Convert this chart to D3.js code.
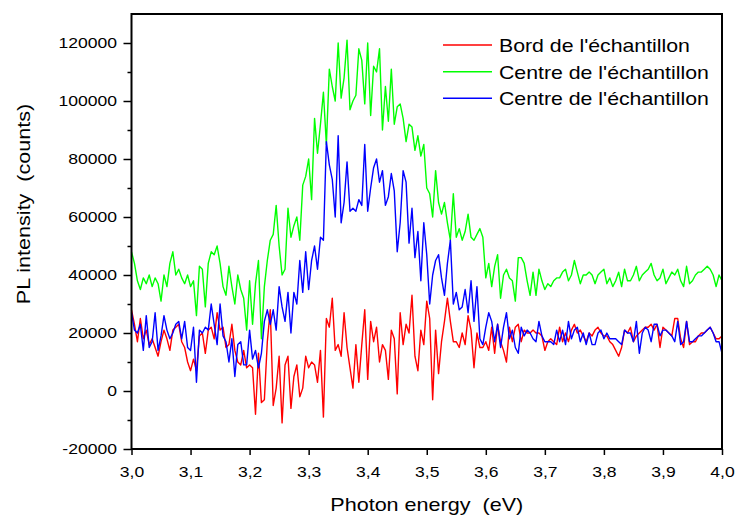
<!DOCTYPE html>
<html>
<head>
<meta charset="utf-8">
<script src="https://cdn.jsdelivr.net/npm/d3@7"></script>
<style>
  html, body { margin: 0; padding: 0; background: #fff; }
  svg { display: block; font-family: "Liberation Sans", Arial, sans-serif; }
  text { white-space: pre; }
</style>
</head>
<body>
<svg id="chart" width="737" height="515"></svg>
<script>
// ---------------- DATA ----------------
const energyStart = 3.0;     // eV
const energyStep = 0.005;    // eV
const energyEnd = 4.0;

// PL intensity (counts) at each energy step
const bordEchantillon = [
  28000,23000,17000,25000,18000,21000,16000,18000,15000,12000,
  17000,21000,18000,14000,21000,22000,23000,17000,15000,10000,
  7000,11000,7000,19000,20000,13000,21000,22000,18000,27000,
  21000,22000,15000,16000,23000,14000,10000,9000,14000,8000,
  9000,8000,-8000,13000,-4000,-3000,17000,28000,-5000,1000,
  12000,-11000,9000,12000,-6000,5000,9000,-2000,1000,12000,
  8000,10000,9000,3000,14000,-9000,25000,22000,32000,14000,
  16000,12000,27000,15000,8000,1000,16000,3000,16000,28000,
  4000,24000,17000,22000,10000,16000,14000,4000,21000,18000,
  -1000,27000,16000,23000,20000,33000,12000,7000,21000,16000,
  31000,25000,-3000,21000,6000,17000,24000,32000,24000,17000,
  17000,15000,20000,16000,26000,21000,8000,20000,15000,15000,
  17000,14000,22000,13000,23000,17000,14000,10000,22000,17000,
  22000,23000,17000,21000,20000,20000,21000,20000,20000,19000,
  14000,17000,18000,17000,16000,22000,17000,20000,17000,21000,
  23000,20000,21000,19000,17000,20000,19000,21000,22000,20000,
  19000,19000,17000,16000,14000,12000,15000,21000,20000,22000,
  17000,19000,20000,21000,22000,22000,23000,21000,23000,15000,
  22000,21000,20000,19000,25000,25000,18000,15000,24000,16000,
  17000,17000,19000,20000,20000,21000,22000,20000,18000,18000,
  19000
];

const centreEchantillon1 = [
  48000,44000,38000,35000,39000,37000,40000,36000,39000,37000,
  31000,40000,36000,44000,48000,40000,42000,39000,37000,40000,
  36000,38000,26000,43000,42000,29000,44000,48000,47000,50000,
  44000,36000,33000,43000,36000,30000,40000,35000,32000,21000,
  38000,23000,37000,45000,18000,36000,45000,52000,54000,64000,
  50000,40000,42000,63000,53000,57000,60000,52000,71000,74000,
  80000,66000,94000,82000,92000,103000,85000,111000,105000,100000,
  120000,101000,108000,121000,97000,100000,102000,118000,114000,99000,
  120000,95000,112000,110000,118000,90000,105000,93000,111000,92000,
  98000,99000,94000,86000,92000,91000,83000,88000,81000,85000,
  70000,68000,60000,76000,65000,61000,65000,58000,52000,68000,
  53000,56000,52000,55000,61000,53000,52000,54000,56000,53000,
  39000,44000,36000,43000,47000,32000,40000,42000,39000,38000,
  31000,46000,46000,44000,38000,33000,41000,33000,42000,38000,
  35000,37000,36000,38000,39000,39000,41000,42000,38000,40000,
  45000,41000,37000,40000,40000,41000,40000,37000,40000,41000,
  42000,37000,39000,36000,38000,41000,36000,42000,38000,38000,
  40000,43000,38000,40000,41000,42000,44000,40000,38000,39000,
  42000,37000,39000,41000,40000,42000,38000,36000,43000,37000,
  38000,40000,41000,41000,42000,43000,42000,40000,36000,40000,
  38000
];

const centreEchantillon2 = [
  27000,21000,20000,23000,14000,26000,15000,17000,27000,14000,
  19000,26000,21000,18000,20000,23000,24000,18000,24000,15000,
  14000,22000,3000,21000,20000,22000,21000,30000,23000,16000,
  30000,19000,17000,10000,18000,5000,16000,17000,9000,9000,
  21000,11000,14000,8000,13000,24000,28000,23000,28000,21000,
  36000,29000,24000,34000,20000,34000,30000,45000,34000,48000,
  35000,45000,50000,42000,53000,52000,86000,78000,73000,60000,
  88000,58000,65000,79000,62000,63000,62000,66000,64000,85000,
  62000,70000,77000,80000,72000,76000,64000,67000,75000,69000,
  48000,58000,76000,72000,51000,63000,46000,55000,38000,58000,
  47000,30000,40000,45000,47000,39000,33000,44000,52000,30000,
  34000,28000,29000,35000,27000,38000,24000,36000,18000,16000,
  22000,27000,24000,17000,23000,15000,22000,27000,18000,21000,
  15000,13000,22000,19000,21000,20000,18000,17000,24000,19000,
  17000,17000,17000,16000,21000,17000,21000,16000,24000,18000,
  21000,22000,17000,20000,16000,20000,16000,16000,20000,21000,
  18000,20000,18000,18000,18000,17000,16000,21000,20000,20000,
  17000,24000,13000,20000,22000,21000,17000,23000,23000,19000,
  21000,21000,20000,19000,17000,24000,16000,17000,24000,17000,
  17000,18000,19000,19000,20000,21000,22000,20000,17000,17000,
  13000
];

const seriesNames = ["Bord de l'échantillon", "Centre de l'échantillon", "Centre de l'échantillon"];
const seriesColors = ["#ff0000", "#00ff00", "#0000ff"];
const xTickValues = [3.0, 3.1, 3.2, 3.3, 3.4, 3.5, 3.6, 3.7, 3.8, 3.9, 4.0];
const yTickValues = [-20000, 0, 20000, 40000, 60000, 80000, 100000, 120000];
const yMinorTickValues = [-10000, 10000, 30000, 50000, 70000, 90000, 110000];
const xTitle = "Photon energy  (eV)";
const yTitle = "PL intensity  (counts)";

// ---------------- CHART ----------------
const svg = d3.select("#chart");
const L = 131.5, R = 722, T = 14, B = 449;

const x = d3.scaleLinear().domain([3.0, 4.0]).range([L, R]);
const y = d3.scaleLinear().domain([-20000, 130000]).range([B, T]);

const seriesValues = [bordEchantillon, centreEchantillon1, centreEchantillon2];
const energies = bordEchantillon.map((_, i) => energyStart + i * energyStep);

// data lines
const line = d3.line()
  .x((d, i) => x(energies[i]))
  .y(d => y(d));

const order = [1, 0, 2];
order.forEach(k => {
  svg.append("path")
    .datum(seriesValues[k])
    .attr("fill", "none")
    .attr("stroke", seriesColors[k])
    .attr("stroke-width", 1.4)
    .attr("stroke-linejoin", "round")
    .attr("d", line);
});

// frame
svg.append("rect")
  .attr("x", L).attr("y", T)
  .attr("width", R - L).attr("height", B - T)
  .attr("fill", "none").attr("stroke", "#000").attr("stroke-width", 2);

// x axis
const xAxis = d3.axisBottom(x)
  .tickValues(xTickValues)
  .tickSize(6)
  .tickSizeOuter(0)
  .tickPadding(11)
  .tickFormat(d => d.toFixed(1).replace(".", ","));
const gx = svg.append("g").attr("transform", `translate(0,${B})`).call(xAxis);
gx.select(".domain").remove();
gx.selectAll(".tick line").attr("stroke-width", 1.5);
gx.selectAll("text").attr("font-size", 15).attr("font-family", "Liberation Sans, Arial, sans-serif").attr("fill", "#000");

// y axis major
const yAxis = d3.axisLeft(y)
  .tickValues(yTickValues)
  .tickSize(8)
  .tickSizeOuter(0)
  .tickPadding(6.5)
  .tickFormat(d => String(d));
const gy = svg.append("g").attr("transform", `translate(${L},0)`).call(yAxis);
gy.select(".domain").remove();
gy.selectAll(".tick line").attr("stroke-width", 1.5);
gy.selectAll("text").attr("font-size", 15).attr("font-family", "Liberation Sans, Arial, sans-serif").attr("fill", "#000");

// y axis minor
const yMinor = d3.axisLeft(y)
  .tickValues(yMinorTickValues)
  .tickSize(4)
  .tickSizeOuter(0)
  .tickFormat("");
const gym = svg.append("g").attr("transform", `translate(${L},0)`).call(yMinor);
gym.select(".domain").remove();
gym.selectAll(".tick line").attr("stroke-width", 1.5);

// titles
svg.append("text")
  .attr("class", "stretch")
  .attr("x", (L + R) / 2).attr("y", 511)
  .attr("text-anchor", "middle")
  .attr("font-size", 18.5)
  .text(xTitle);

svg.append("text")
  .attr("class", "stretch")
  .attr("transform", "translate(30,204) rotate(-90)")
  .attr("text-anchor", "middle")
  .attr("font-size", 18.5)
  .text(yTitle);

// legend
const legendY = [45, 71.7, 98.3];
seriesNames.forEach((name, k) => {
  svg.append("line")
    .attr("x1", 443).attr("x2", 492)
    .attr("y1", legendY[k]).attr("y2", legendY[k])
    .attr("stroke", seriesColors[k]).attr("stroke-width", 1.4);
  svg.append("text")
    .attr("class", "legend")
    .attr("x", 499).attr("y", legendY[k] + 6.8)
    .attr("font-size", 18.5)
    .text(name);
});

// horizontal stretch of text to match reference rendering
function stretch(sel, f) {
  sel.each(function () {
    const len = this.getComputedTextLength();
    if (len > 0) {
      this.setAttribute("textLength", (len * f).toFixed(2));
      this.setAttribute("lengthAdjust", "spacingAndGlyphs");
    }
  });
}
stretch(gx.selectAll("text"), 1.17);
stretch(gy.selectAll("text"), 1.17);
stretch(svg.selectAll("text.stretch"), 1.165);
stretch(svg.selectAll("text.legend"), 1.15);
</script>
</body>
</html>
